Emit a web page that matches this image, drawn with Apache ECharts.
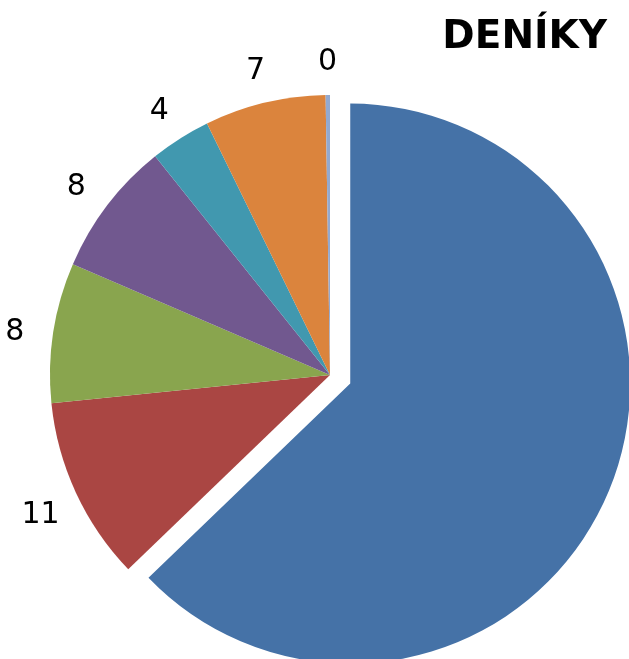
<!DOCTYPE html>
<html>
<head>
<meta charset="utf-8">
<script src="https://cdn.jsdelivr.net/npm/echarts@6/dist/echarts.min.js"></script>
<style>
  html, body { margin: 0; padding: 0; background: #fff; }
  #chart { width: 629px; height: 659px; }
</style>
</head>
<body>
<div id="chart"></div>
<script>
// data (percent shares, labels shown rounded)
const categories = ['A', 'B', 'C', 'D', 'E', 'F', 'G']
const values = [62.9, 10.6, 8.1, 7.8, 3.5, 7.0, 0.25]
const colors = ['#4572A7', '#AA4643', '#89A54E', '#71588F', '#4198AF', '#DB843D', '#93A9CF']

const chart = echarts.init(document.getElementById('chart'))
const cx = 330, cy = 375

const option = {
  animation: false,
  title: {
    text: 'DENÍKY',
    right: 22,
    top: 18,
    padding: 0,
    textStyle: {
      fontFamily: 'DejaVu Sans',
      fontWeight: 'bold',
      fontSize: 39,
      color: '#000'
    }
  },
  series: [
    {
      type: 'pie',
      center: [cx, cy],
      radius: [0, 280],
      startAngle: 90,
      clockwise: true,
      selectedMode: 'single',
      selectedOffset: 22,
      avoidLabelOverlap: false,
      emphasis: { disabled: true },
      label: {
        show: true,
        position: 'outside',
        fontFamily: 'DejaVu Sans',
        fontSize: 30,
        color: '#000',
        formatter: p => Math.round(p.value)
      },
      labelLine: {
        show: true,
        length: 39,
        length2: 0,
        lineStyle: { opacity: 0, width: 0 }
      },
      // center each label on the end of its (hidden) leader line
      labelLayout: function (p) {
        if (p.dataIndex === 0) {
          const a = 40 * Math.PI / 180
          return { x: cx + 324 * Math.sin(a), y: cy - 324 * Math.cos(a), align: 'center', verticalAlign: 'middle' }
        }
        const pts = p.labelLinePoints
        if (!pts) return {}
        return { x: pts[1][0], y: pts[1][1] + 6, align: 'center', verticalAlign: 'middle' }
      },
      itemStyle: { borderWidth: 0 },
      data: categories.map((c, i) => ({
        name: c,
        value: values[i],
        selected: i === 0,
        itemStyle: { color: colors[i] }
      }))
    }
  ]
}
chart.setOption(option)
</script>
</body>
</html>
